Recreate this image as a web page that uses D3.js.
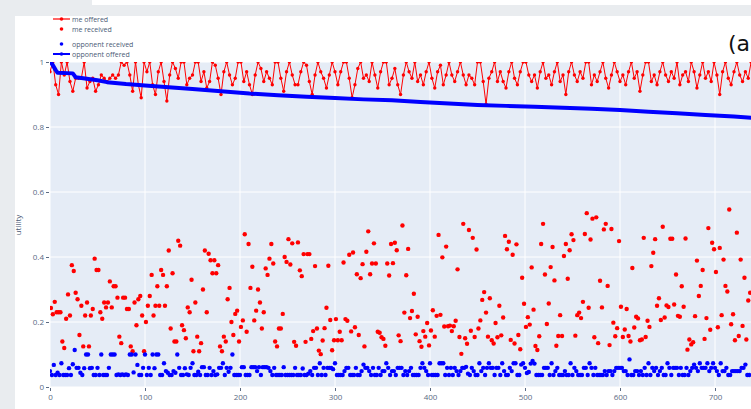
<!DOCTYPE html>
<html>
<head>
<meta charset="utf-8">
<script src="https://cdn.jsdelivr.net/npm/d3@7"></script>
<style>
  body { margin: 0; background: #e9ecef; overflow: hidden; }
  svg { display: block; font-family: 'Open Sans', sans-serif; }
</style>
</head>
<body>
<div id="chart"></div>
<script>
// utility of my offers, one value every 3 rounds
const meOffered = [
  0.97, 1, 0.93, 0.9, 1, 0.96, 1, 0.94, 0.91, 0.95, 0.95, 0.95, 1, 0.92, 0.94, 0.95, 0.91, 0.93, 0.96, 0.95,
  0.94, 0.95, 0.96, 0.95, 0.96, 1, 0.99, 1, 0.96, 0.91, 1, 0.93, 0.89, 1, 0.97, 1, 0.93, 0.9, 0.97, 1,
  0.94, 0.88, 0.96, 1, 0.98, 0.95, 1, 1, 0.93, 0.95, 0.96, 1, 1, 0.94, 0.97, 0.92, 0.94, 1, 0.99, 0.95,
  0.9, 0.97, 1, 0.96, 0.93, 0.95, 1, 1, 0.94, 0.97, 0.93, 0.9, 0.96, 1, 0.98, 0.94, 0.97, 0.95, 0.93, 1,
  1, 0.95, 0.91, 0.97, 1, 0.96, 0.93, 0.93, 0.97, 1, 0.99, 0.94, 0.9, 0.96, 1, 0.97, 0.95, 0.92, 0.96, 1,
  0.97, 0.93, 0.97, 1, 1, 0.95, 0.89, 0.93, 0.98, 1, 0.95, 0.96, 0.94, 1, 0.96, 0.92, 0.97, 1, 1, 0.93,
  0.95, 0.98, 0.93, 0.9, 0.96, 1, 0.97, 0.95, 1, 0.94, 0.96, 0.93, 0.97, 1, 0.95, 0.92, 0.97, 0.99, 0.93, 0.96,
  1, 0.96, 0.94, 0.97, 1, 0.96, 0.93, 0.96, 0.95, 0.93, 1, 1, 0.94, 0.87, 0.95, 0.97, 1, 0.94, 0.97, 0.94,
  0.92, 0.97, 1, 0.95, 0.93, 0.97, 1, 1, 0.96, 0.94, 0.96, 0.92, 0.97, 1, 0.95, 0.96, 0.93, 0.97, 1, 0.94,
  0.96, 0.9, 0.97, 1, 0.96, 0.94, 0.97, 0.95, 1, 1, 0.93, 0.96, 0.94, 0.97, 1, 0.95, 0.92, 0.96, 1, 0.97,
  0.94, 0.96, 0.93, 0.97, 1, 0.95, 0.97, 0.91, 0.96, 1, 1, 0.94, 0.96, 0.93, 0.97, 1, 0.96, 0.94, 0.97, 0.95,
  1, 0.93, 0.96, 0.97, 0.94, 1, 0.97, 0.92, 0.96, 1, 0.95, 0.97, 0.94, 1, 0.96, 0.9, 0.97, 1, 0.95, 0.93,
  0.97, 1, 0.96, 0.94, 0.97, 0.95, 1
]

// utility I received, one value every 2 rounds (odd rounds)
const meReceived = [
  0.243, 0.224, 0.262, 0.23, 0.23, 0.23, 0.14, 0.12, 0.21, 0.285, 0.22, 0.375, 0.357, 0.29, 0.27, 0.16, 0.25, 0.125, 0.22, 0.26,
  0.125, 0.22, 0.24, 0.395, 0.36, 0.36, 0.23, 0.21, 0.26, 0.245, 0.26, 0.325, 0.245, 0.31, 0.31, 0.275, 0.155, 0.135, 0.275, 0.275,
  0.24, 0.24, 0.125, 0.11, 0.26, 0.19, 0.27, 0.28, 0.22, 0.11, 0.2, 0.25, 0.28, 0.345, 0.22, 0.25, 0.31, 0.25, 0.36, 0.345,
  0.25, 0.31, 0.42, 0.18, 0.35, 0.14, 0.14, 0.45, 0.435, 0.19, 0.175, 0.15, 0.245, 0.23, 0.33, 0.11, 0.26, 0.155, 0.11, 0.135,
  0.3, 0.42, 0.23, 0.41, 0.39, 0.35, 0.39, 0.35, 0.375, 0.125, 0.11, 0.155, 0.14, 0.27, 0.305, 0.2, 0.16, 0.225, 0.235, 0.14,
  0.185, 0.205, 0.47, 0.17, 0.44, 0.305, 0.37, 0.205, 0.235, 0.3, 0.26, 0.18, 0.23, 0.365, 0.345, 0.395, 0.44, 0.38, 0.14, 0.125,
  0.18, 0.18, 0.225, 0.4, 0.385, 0.455,
  0.377, 0.442, 0.139, 0.127, 0.445, 0.359, 0.341, 0.409, 0.139, 0.409, 0.409, 0.148, 0.172, 0.372, 0.18, 0.112, 0.101, 0.143, 0.181, 0.244,
  0.373, 0.206, 0.113, 0.144, 0.209, 0.144, 0.17, 0.144, 0.383, 0.209, 0.204, 0.407, 0.171, 0.414, 0.184, 0.347, 0.16, 0.335, 0.378, 0.125,
  0.416, 0.479, 0.347, 0.38, 0.442, 0.38, 0.17, 0.167, 0.153, 0.148, 0.127, 0.38, 0.343, 0.44, 0.381, 0.444, 0.421, 0.159, 0.141, 0.497,
  0.229, 0.344, 0.425, 0.212, 0.234, 0.287, 0.162, 0.216, 0.141, 0.124, 0.172, 0.155, 0.197, 0.128, 0.174, 0.236, 0.155, 0.219, 0.468, 0.222,
  0.399, 0.186, 0.432, 0.187, 0.189, 0.172, 0.187, 0.204, 0.362, 0.154, 0.102, 0.502, 0.15, 0.133, 0.483, 0.173, 0.459, 0.154, 0.423, 0.18,
  0.205, 0.268, 0.292, 0.229, 0.155, 0.273, 0.144, 0.134, 0.197, 0.153, 0.25, 0.159, 0.214, 0.465, 0.424, 0.447, 0.145, 0.407, 0.134, 0.439,
  0.16, 0.116, 0.336, 0.256, 0.185, 0.215,
  0.192, 0.368, 0.238, 0.126, 0.114, 0.156, 0.44, 0.502, 0.346, 0.194, 0.257, 0.369, 0.431, 0.328, 0.127, 0.157, 0.221, 0.157, 0.403, 0.44,
  0.333, 0.421, 0.47, 0.452, 0.158, 0.221, 0.229, 0.212, 0.262, 0.471, 0.535, 0.244, 0.454, 0.518, 0.153, 0.522, 0.135, 0.327, 0.245, 0.485,
  0.502, 0.311, 0.129, 0.486, 0.198, 0.156, 0.181, 0.449, 0.247, 0.154, 0.177, 0.24, 0.157, 0.14, 0.366, 0.183, 0.216, 0.211, 0.144, 0.146,
  0.459, 0.154, 0.204, 0.185, 0.372, 0.413, 0.455, 0.25, 0.273, 0.206, 0.493, 0.214, 0.251, 0.246, 0.456, 0.456, 0.254, 0.346, 0.219, 0.216,
  0.31, 0.247, 0.457, 0.115, 0.146, 0.131, 0.138, 0.218, 0.389, 0.28, 0.311, 0.36, 0.148, 0.212, 0.489, 0.176, 0.444, 0.424, 0.354, 0.184,
  0.428, 0.221, 0.392, 0.311, 0.294, 0.546, 0.193, 0.224, 0.144, 0.475, 0.157, 0.392, 0.188, 0.336, 0.146, 0.266, 0.29
]

// utility the opponent received, one value every 2 rounds (even rounds)
const oppReceived = [
  0.049, 0.037, 0.068, 0.037, 0.044, 0.037, 0.073, 0.037, 0.037, 0.037, 0.058, 0.037, 0.07, 0.114, 0.059, 0.059, 0.044, 0.037, 0.058, 0.1,
  0.1, 0.058, 0.059, 0.037, 0.037, 0.059, 0.037, 0.1, 0.037, 0.037, 0.037, 0.059, 0.1, 0.1, 0.1, 0.037, 0.039, 0.037, 0.039, 0.037,
  0.039, 0.037, 0.1, 0.1, 0.045, 0.1, 0.068, 0.037, 0.037, 0.059, 0.1, 0.037, 0.059, 0.037, 0.1, 0.058, 0.1, 0.1, 0.037, 0.037,
  0.073, 0.049, 0.044, 0.037, 0.037, 0.049, 0.044, 0.1, 0.059, 0.037, 0.037, 0.058, 0.039, 0.037, 0.059, 0.073, 0.037, 0.037, 0.047, 0.037,
  0.061, 0.061, 0.037, 0.037, 0.059, 0.037, 0.049, 0.037, 0.039, 0.059, 0.059, 0.073, 0.037, 0.059, 0.047, 0.059, 0.1, 0.037, 0.037, 0.037,
  0.037, 0.061, 0.061, 0.037, 0.037, 0.037, 0.061, 0.061, 0.061, 0.049, 0.061, 0.037, 0.061, 0.061, 0.061, 0.059, 0.049, 0.037, 0.059, 0.037,
  0.037, 0.037, 0.037, 0.061, 0.037, 0.037,
  0.037, 0.037, 0.037, 0.059, 0.037, 0.037, 0.037, 0.057, 0.037, 0.037, 0.041, 0.049, 0.037, 0.059, 0.059, 0.037, 0.073, 0.037, 0.059, 0.037,
  0.059, 0.059, 0.059, 0.055, 0.073, 0.037, 0.037, 0.037, 0.037, 0.049, 0.059, 0.059, 0.037, 0.037, 0.037, 0.059, 0.037, 0.037, 0.049, 0.069,
  0.059, 0.059, 0.049, 0.037, 0.059, 0.037, 0.037, 0.059, 0.037, 0.049, 0.049, 0.073, 0.059, 0.037, 0.049, 0.049, 0.037, 0.059, 0.059, 0.059,
  0.037, 0.049, 0.037, 0.049, 0.059, 0.037, 0.037, 0.037, 0.037, 0.059, 0.073, 0.059, 0.049, 0.037, 0.073, 0.037, 0.037, 0.037, 0.037, 0.073,
  0.073, 0.073, 0.037, 0.059, 0.037, 0.059, 0.037, 0.059, 0.049, 0.037, 0.049, 0.059, 0.059, 0.062, 0.041, 0.037, 0.059, 0.049, 0.037, 0.037,
  0.073, 0.049, 0.059, 0.037, 0.059, 0.073, 0.059, 0.059, 0.037, 0.059, 0.059, 0.037, 0.073, 0.049, 0.037, 0.037, 0.059, 0.049, 0.073, 0.073,
  0.037, 0.037, 0.069, 0.073, 0.059, 0.043,
  0.046, 0.072, 0.08, 0.072, 0.037, 0.037, 0.037, 0.037, 0.059, 0.059, 0.059, 0.037, 0.073, 0.037, 0.049, 0.059, 0.037, 0.037, 0.037, 0.049,
  0.037, 0.037, 0.073, 0.037, 0.059, 0.049, 0.037, 0.037, 0.037, 0.059, 0.059, 0.037, 0.073, 0.059, 0.037, 0.059, 0.037, 0.037, 0.037, 0.037,
  0.049, 0.037, 0.049, 0.049, 0.037, 0.049, 0.059, 0.059, 0.059, 0.059, 0.049, 0.049, 0.037, 0.085, 0.037, 0.037, 0.049, 0.049, 0.037, 0.049,
  0.037, 0.059, 0.037, 0.073, 0.037, 0.059, 0.049, 0.059, 0.037, 0.049, 0.059, 0.037, 0.037, 0.073, 0.059, 0.037, 0.059, 0.059, 0.059, 0.037,
  0.059, 0.037, 0.037, 0.059, 0.037, 0.049, 0.059, 0.069, 0.059, 0.049, 0.073, 0.059, 0.059, 0.059, 0.073, 0.049, 0.059, 0.073, 0.059, 0.049,
  0.037, 0.073, 0.049, 0.049, 0.059, 0.037, 0.037, 0.049, 0.049, 0.049, 0.049, 0.049, 0.059, 0.059, 0.069, 0.037, 0.037
]

// opponent's offers: slowly conceding curve
const oppOfferedRound = [0, 2, 4, 6, 8, 24, 27, 35, 50, 60, 80, 100, 125, 150, 180, 210, 240, 270, 300, 330, 360, 390, 420, 450, 480, 510, 540, 570, 600, 630, 660, 690, 720, 745]
const oppOfferedUtil = [1, 0.995, 0.985, 0.975, 0.967, 0.965, 0.953, 0.95, 0.944, 0.938, 0.932, 0.928, 0.922, 0.917, 0.91, 0.903, 0.898, 0.893, 0.889, 0.885, 0.882, 0.877, 0.872, 0.868, 0.865, 0.862, 0.859, 0.856, 0.852, 0.847, 0.842, 0.837, 0.832, 0.827]

const xTicks = [0, 100, 200, 300, 400, 500, 600, 700]
const yTicks = [0, 0.2, 0.4, 0.6, 0.8, 1]
const yTickLabels = ['0', '0.2', '0.4', '0.6', '0.8', '1']

const width = 751
const height = 409
const plot = { left: 50, top: 62, right: 810, bottom: 387 }

const svg = d3
  .select('#chart')
  .append('svg')
  .attr('width', width)
  .attr('height', height)

// page background (grey frame, white panel)
svg.append('rect').attr('width', width).attr('height', height).attr('fill', '#e9ecef')
svg.append('rect').attr('x', 92).attr('y', 0).attr('width', width).attr('height', 5).attr('fill', '#fff')
svg.append('rect').attr('x', 15).attr('y', 16).attr('width', width).attr('height', height).attr('fill', '#fff')

const x = d3.scaleLinear().domain([0, 800]).range([plot.left, plot.right])
const y = d3.scaleLinear().domain([0, 1]).range([plot.bottom, plot.top])

svg
  .append('rect')
  .attr('x', plot.left)
  .attr('y', plot.top)
  .attr('width', plot.right - plot.left)
  .attr('height', plot.bottom - plot.top)
  .attr('fill', '#e5ecf6')

// grid
svg
  .selectAll('.vgrid')
  .data(xTicks)
  .enter()
  .append('line')
  .attr('x1', d => x(d))
  .attr('x2', d => x(d))
  .attr('y1', plot.top)
  .attr('y2', plot.bottom)
  .attr('stroke', '#fff')
  .attr('stroke-width', 1)

svg
  .selectAll('.hgrid')
  .data(yTicks)
  .enter()
  .append('line')
  .attr('x1', plot.left)
  .attr('x2', plot.right)
  .attr('y1', d => y(d))
  .attr('y2', d => y(d))
  .attr('stroke', '#fff')
  .attr('stroke-width', 1)

// axes
const tickColor = '#5b6b84'
const yAxis = svg
  .append('g')
  .attr('transform', `translate(${plot.left - 1},0)`)
  .call(d3.axisLeft(y).tickValues(yTicks).tickFormat((d, i) => yTickLabels[i]).tickSize(3).tickPadding(2))
const xAxis = svg
  .append('g')
  .attr('transform', `translate(0,${plot.bottom + 1})`)
  .call(d3.axisBottom(x).tickValues(xTicks).tickSize(3).tickPadding(3))

;[xAxis, yAxis].forEach(g => {
  g.select('.domain').remove()
  g.selectAll('line').attr('stroke', tickColor)
  g.selectAll('text').attr('fill', tickColor).style('font-size', '8px').style('font-family', "'Open Sans', sans-serif")
})

svg
  .append('text')
  .attr('transform', 'translate(21,225) rotate(-90)')
  .attr('text-anchor', 'middle')
  .attr('fill', '#4a5a75')
  .style('font-size', '8px')
  .text('utility')

// x title sits at the bottom edge, mostly cut off as in the source
svg
  .append('text')
  .attr('x', 410)
  .attr('y', 414)
  .attr('text-anchor', 'middle')
  .attr('fill', '#4a5a75')
  .style('font-size', '8px')
  .text('rounds')

// clip everything to the plot area
svg
  .append('clipPath')
  .attr('id', 'clip')
  .append('rect')
  .attr('x', plot.left)
  .attr('y', plot.top)
  .attr('width', plot.right - plot.left)
  .attr('height', plot.bottom - plot.top)

const g = svg.append('g').attr('clip-path', 'url(#clip)')

const red = '#ff0000'
const blue = '#0000ff'

// me offered
const offeredLine = d3
  .line()
  .x((d, i) => x(i * 3))
  .y(d => y(d))

g.append('path')
  .datum(meOffered)
  .attr('d', offeredLine)
  .attr('fill', 'none')
  .attr('stroke', red)
  .attr('stroke-width', 1)

g.selectAll('.meoff')
  .data(meOffered)
  .enter()
  .append('circle')
  .attr('cx', (d, i) => x(i * 3))
  .attr('cy', d => y(d))
  .attr('r', 1.7)
  .attr('fill', red)

// me received
g.selectAll('.merec')
  .data(meReceived)
  .enter()
  .append('circle')
  .attr('cx', (d, i) => x(i * 2 + 1))
  .attr('cy', d => y(d))
  .attr('r', 2.2)
  .attr('fill', red)

// opponent received
g.selectAll('.opprec')
  .data(oppReceived)
  .enter()
  .append('circle')
  .attr('cx', (d, i) => x(i * 2))
  .attr('cy', d => y(d))
  .attr('r', 2.2)
  .attr('fill', blue)

// opponent offered
const oppLine = d3
  .line()
  .x((d, i) => x(oppOfferedRound[i]))
  .y(d => y(d))

g.append('path')
  .datum(oppOfferedUtil)
  .attr('d', oppLine)
  .attr('fill', 'none')
  .attr('stroke', blue)
  .attr('stroke-width', 4)
  .attr('stroke-linejoin', 'round')

// legend
const legend = [
  { name: 'me offered', color: red, line: true, y: 19 },
  { name: 'me received', color: red, line: false, y: 29 },
  { name: 'opponent received', color: blue, line: false, y: 44 },
  { name: 'opponent offered', color: blue, line: true, y: 54 }
]

const lg = svg.selectAll('.legend').data(legend).enter().append('g')

lg.filter(d => d.line)
  .append('line')
  .attr('x1', 53)
  .attr('x2', 70)
  .attr('y1', d => d.y)
  .attr('y2', d => d.y)
  .attr('stroke', d => d.color)
  .attr('stroke-width', d => (d.color === blue ? 2 : 1.2))

lg.append('circle')
  .attr('cx', 61.5)
  .attr('cy', d => d.y)
  .attr('r', 1.8)
  .attr('fill', d => d.color)

lg.append('text')
  .attr('x', 72)
  .attr('y', d => d.y + 2.5)
  .attr('fill', '#4a5a75')
  .style('font-size', '7px')
  .text(d => d.name)

// title, cut off at the right edge
svg
  .append('text')
  .attr('x', 728)
  .attr('y', 51)
  .attr('fill', '#111')
  .style('font-family', "'DejaVu Sans', sans-serif")
  .style('font-size', '22px')
  .text('(a)')
</script>
</body>
</html>
